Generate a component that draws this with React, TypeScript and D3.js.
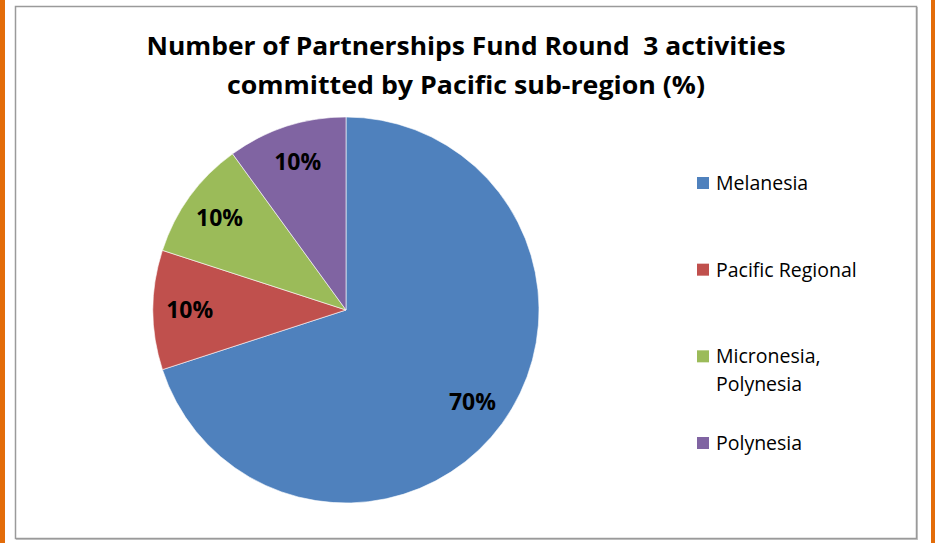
import React from "react";
import * as d3 from "d3";

const categories = ["Melanesia", "Pacific Regional", "Micronesia, Polynesia", "Polynesia"];
const values = [70, 10, 10, 10];
const legendLines = [["Melanesia"], ["Pacific Regional"], ["Micronesia,", "Polynesia"], ["Polynesia"]];
const colors = ["#4F81BD", "#C0504D", "#9BBB59", "#8064A2"];
const titleLines = ["Number of Partnerships Fund Round  3 activities", "committed by Pacific sub-region (%)"];
const titleWidths = [639, 478];

const W = 935;
const H = 543;
const FONT = "'Open Sans', Lato, sans-serif";

export default function App() {
  const cx = 346;
  const cy = 310;
  const r = 193;
  const pie = d3.pie<number>().sort(null).value((d) => d)(values);
  const arc = d3.arc<d3.PieArcDatum<number>>().innerRadius(0).outerRadius(r);
  const labelArc = d3.arc<d3.PieArcDatum<number>>().innerRadius(r * 0.81).outerRadius(r * 0.81);
  const total = d3.sum(values);
  const legendY = d3.scalePoint<string>().domain(categories).range([183, 443]);

  return (
    <div style={{ position: "fixed", left: 0, top: 0, width: W, height: H, background: "#fff" }}>
      <svg width={W} height={H} style={{ display: "block" }}>
        <rect x={0} y={0} width={5} height={H} fill="#E36C09" />
        <rect x={931} y={0} width={4} height={H} fill="#E36C09" />
        <rect x={16.5} y={7.5} width={901} height={532} fill="#fff" stroke="#c8c8c8" strokeWidth={1} />
        <rect x={15.5} y={6.5} width={901} height={532} fill="#fff" stroke="#9a9a9a" strokeWidth={1.5} />
        {titleLines.map((t, i) => (
          <text key={i} x={466} y={55 + i * 39} textAnchor="middle" fontFamily={FONT} fontWeight="bold" fontSize={25}
            textLength={titleWidths[i]} lengthAdjust="spacingAndGlyphs" fill="#000" style={{ whiteSpace: "pre" }}>
            {t}
          </text>
        ))}
        <g transform={`translate(${cx},${cy})`}>
          {pie.map((p, i) => (
            <path key={i} d={arc(p) || ""} fill={colors[i]} stroke="#fff" strokeWidth={0.6} />
          ))}
          {pie.map((p, i) => {
            const [x, y] = labelArc.centroid(p);
            return (
              <text key={i} x={x} y={y} dy="0.36em" textAnchor="middle" fontFamily={FONT} fontWeight="bold" fontSize={23} fill="#000">
                {Math.round((p.value / total) * 100)}%
              </text>
            );
          })}
        </g>
        {categories.map((c, i) => {
          const y = legendY(c)!;
          return (
            <g key={c}>
              <rect x={697} y={y - 6} width={12} height={12} fill={colors[i]} />
              {legendLines[i].map((l, j) => (
                <text key={j} x={716} y={y + j * 28} dy="0.36em" fontFamily={FONT} fontSize={19.5} fill="#000">
                  {l}
                </text>
              ))}
            </g>
          );
        })}
      </svg>
    </div>
  );
}
